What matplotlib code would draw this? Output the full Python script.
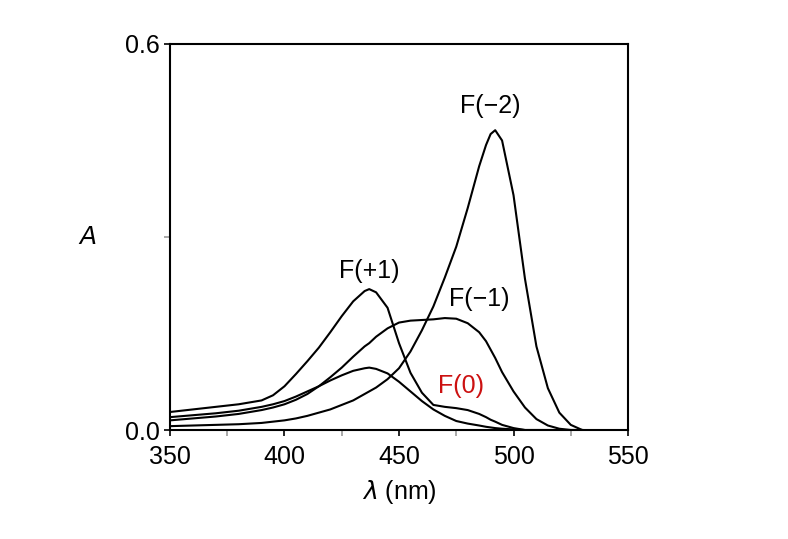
import numpy as np
import matplotlib
matplotlib.use("Agg")
import matplotlib.pyplot as plt
from matplotlib.ticker import MultipleLocator, FixedLocator

plt.rcParams['font.family'] = ['Liberation Sans', 'DejaVu Sans']

# wavelength grid (nm) shared by all spectra
wl = [350, 360, 370, 380, 390, 395, 400, 405, 410, 415, 420, 425, 430, 435,
      437, 440, 445, 450, 455, 460, 465, 470, 475, 480, 485, 488, 490, 492,
      495, 500, 505, 510, 515, 520, 525, 530]

# absorbance
f_plus1 = [0.028, 0.032, 0.036, 0.040, 0.046, 0.054, 0.068, 0.087, 0.107, 0.128,
           0.152, 0.177, 0.200, 0.216, 0.219, 0.214, 0.190, 0.135, 0.089, 0.058,
           0.039, 0.036, 0.034, 0.031, 0.025, 0.020, 0.016, 0.013, 0.008, 0.003,
           0.0, 0.0, 0.0, 0.0, 0.0, 0.0]
f_zero = [0.020, 0.023, 0.026, 0.030, 0.036, 0.040, 0.045, 0.052, 0.060, 0.068,
          0.077, 0.085, 0.092, 0.096, 0.097, 0.095, 0.088, 0.075, 0.060, 0.045,
          0.032, 0.022, 0.014, 0.010, 0.007, 0.005, 0.004, 0.003, 0.002, 0.001,
          0.0, 0.0, 0.0, 0.0, 0.0, 0.0]
f_minus1 = [0.015, 0.018, 0.021, 0.025, 0.031, 0.035, 0.040, 0.047, 0.056, 0.068,
            0.082, 0.097, 0.114, 0.130, 0.135, 0.145, 0.158, 0.167, 0.170, 0.171,
            0.172, 0.174, 0.173, 0.166, 0.152, 0.138, 0.125, 0.112, 0.090, 0.060,
            0.035, 0.017, 0.007, 0.002, 0.0, 0.0]
f_minus2 = [0.006, 0.007, 0.008, 0.009, 0.011, 0.013, 0.015, 0.018, 0.022, 0.027,
            0.032, 0.039, 0.046, 0.056, 0.060, 0.066, 0.079, 0.096, 0.122, 0.155,
            0.192, 0.237, 0.285, 0.345, 0.410, 0.443, 0.460, 0.466, 0.450, 0.365,
            0.235, 0.130, 0.065, 0.027, 0.008, 0.0]

spectra = [f_plus1, f_zero, f_minus1, f_minus2]

labels = ['F(+1)', 'F(0)', 'F(\u22121)', 'F(\u22122)']
label_pos = [(437, 0.229), (477, 0.050), (485, 0.185), (490, 0.485)]
label_col = ['black', '#cc1111', 'black', 'black']

fig = plt.figure(figsize=(7.88, 5.39), dpi=100)
ax = fig.add_axes([0.2157, 0.2022, 0.5813, 0.7162])

for s in spectra:
    ax.plot(wl, s, color='black', lw=1.5)

for txt, (x, y), c in zip(labels, label_pos, label_col):
    ax.text(x, y, txt, color=c, fontsize=18, ha='center', va='bottom')

ax.set_xlim(350, 550)
ax.set_ylim(0, 0.6)
ax.xaxis.set_major_locator(MultipleLocator(50))
ax.xaxis.set_minor_locator(MultipleLocator(25))
ax.yaxis.set_major_locator(FixedLocator([0.0, 0.6]))
ax.yaxis.set_minor_locator(FixedLocator([0.3]))
ax.set_yticklabels(['0.0', '0.6'])
ax.tick_params(which='both', direction='out', length=4, width=1.2, labelsize=18)
ax.tick_params(axis='x', pad=7)
ax.tick_params(which='minor', color='#999999')
for sp in ax.spines.values():
    sp.set_linewidth(1.5)

ax.set_xlabel('$\\lambda$ (nm)', fontsize=18, labelpad=6)
ax.set_ylabel('$A$', fontsize=18, rotation=0, va='center')
ax.yaxis.set_label_coords(-0.18, 0.5)

fig.savefig('out.png', dpi=100)
